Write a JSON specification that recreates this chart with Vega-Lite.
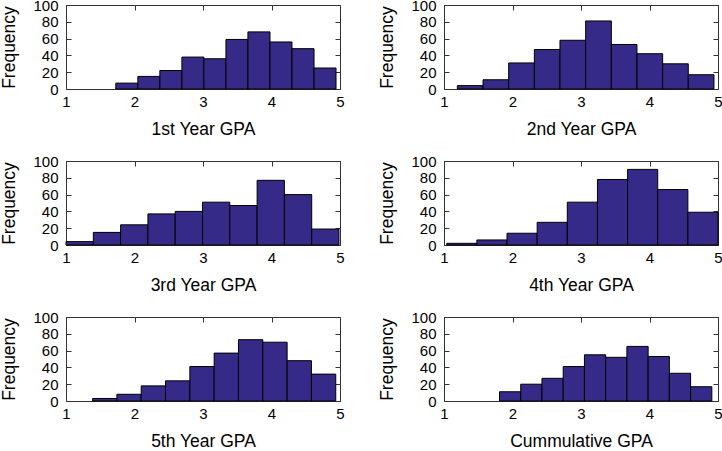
{
  "$schema": "https://vega.github.io/schema/vega-lite/v6.json",
  "padding": {"left": 0, "top": -2, "right": 0, "bottom": 0},
  "bounds": "flush",
  "columns": 2,
  "spacing": {"row": 72, "column": 104},
  "datasets": {
    "p1": [
      {"lo": 1.727, "hi": 2.049, "count": 7},
      {"lo": 2.049, "hi": 2.370, "count": 15},
      {"lo": 2.370, "hi": 2.692, "count": 22},
      {"lo": 2.692, "hi": 3.013, "count": 38},
      {"lo": 3.013, "hi": 3.335, "count": 36},
      {"lo": 3.335, "hi": 3.656, "count": 59},
      {"lo": 3.656, "hi": 3.978, "count": 68},
      {"lo": 3.978, "hi": 4.299, "count": 56},
      {"lo": 4.299, "hi": 4.621, "count": 48},
      {"lo": 4.621, "hi": 4.942, "count": 25}
    ],
    "p2": [
      {"lo": 1.195, "hi": 1.570, "count": 4},
      {"lo": 1.570, "hi": 1.944, "count": 11},
      {"lo": 1.944, "hi": 2.319, "count": 31},
      {"lo": 2.319, "hi": 2.693, "count": 47},
      {"lo": 2.693, "hi": 3.068, "count": 58},
      {"lo": 3.068, "hi": 3.443, "count": 81},
      {"lo": 3.443, "hi": 3.817, "count": 53},
      {"lo": 3.817, "hi": 4.192, "count": 42},
      {"lo": 4.192, "hi": 4.566, "count": 30},
      {"lo": 4.566, "hi": 4.941, "count": 17}
    ],
    "p3": [
      {"lo": 1.000, "hi": 1.399, "count": 4},
      {"lo": 1.399, "hi": 1.797, "count": 15},
      {"lo": 1.797, "hi": 2.196, "count": 24},
      {"lo": 2.196, "hi": 2.594, "count": 37},
      {"lo": 2.594, "hi": 2.993, "count": 40},
      {"lo": 2.993, "hi": 3.391, "count": 51},
      {"lo": 3.391, "hi": 3.790, "count": 47},
      {"lo": 3.790, "hi": 4.188, "count": 77},
      {"lo": 4.188, "hi": 4.587, "count": 60},
      {"lo": 4.587, "hi": 4.985, "count": 19}
    ],
    "p4": [
      {"lo": 1.04, "hi": 1.48, "count": 2},
      {"lo": 1.48, "hi": 1.92, "count": 6},
      {"lo": 1.92, "hi": 2.36, "count": 14},
      {"lo": 2.36, "hi": 2.80, "count": 27},
      {"lo": 2.80, "hi": 3.24, "count": 51},
      {"lo": 3.24, "hi": 3.68, "count": 78},
      {"lo": 3.68, "hi": 4.12, "count": 90},
      {"lo": 4.12, "hi": 4.56, "count": 66},
      {"lo": 4.56, "hi": 5.00, "count": 39}
    ],
    "p5": [
      {"lo": 1.388, "hi": 1.743, "count": 3},
      {"lo": 1.743, "hi": 2.098, "count": 8},
      {"lo": 2.098, "hi": 2.453, "count": 18},
      {"lo": 2.453, "hi": 2.808, "count": 24},
      {"lo": 2.808, "hi": 3.163, "count": 41},
      {"lo": 3.163, "hi": 3.518, "count": 57},
      {"lo": 3.518, "hi": 3.873, "count": 73},
      {"lo": 3.873, "hi": 4.228, "count": 70},
      {"lo": 4.228, "hi": 4.583, "count": 48},
      {"lo": 4.583, "hi": 4.938, "count": 32}
    ],
    "p6": [
      {"lo": 1.810, "hi": 2.120, "count": 11},
      {"lo": 2.120, "hi": 2.430, "count": 20},
      {"lo": 2.430, "hi": 2.740, "count": 27},
      {"lo": 2.740, "hi": 3.050, "count": 41},
      {"lo": 3.050, "hi": 3.360, "count": 55},
      {"lo": 3.360, "hi": 3.670, "count": 52},
      {"lo": 3.670, "hi": 3.980, "count": 65},
      {"lo": 3.980, "hi": 4.290, "count": 53},
      {"lo": 4.290, "hi": 4.600, "count": 33},
      {"lo": 4.600, "hi": 4.910, "count": 17}
    ]
  },
  "concat": [
    {
      "width": 274, "height": 84,
      "data": {"name": "p1"},
      "layer": [
        {"mark": {"type": "bar", "fill": "#352a87", "stroke": "#000000", "strokeWidth": 1},
         "encoding": {
           "x": {"field": "lo", "type": "quantitative", "scale": {"domain": [1, 5]}, "axis": {"title": "1st Year GPA", "values": [1, 2, 3, 4, 5]}},
           "x2": {"field": "hi"},
           "y": {"field": "count", "type": "quantitative", "scale": {"domain": [0, 100]}, "axis": {"title": "Frequency", "values": [0, 20, 40, 60, 80, 100]}},
           "y2": {"datum": 0}
         }},
        {"mark": {"type": "bar", "opacity": 0},
         "encoding": {
           "x": {"field": "lo", "type": "quantitative", "scale": {"domain": [1, 5]}, "axis": {"orient": "top", "labels": false, "title": null, "values": [1, 2, 3, 4, 5]}},
           "x2": {"field": "hi"},
           "y": {"field": "count", "type": "quantitative", "scale": {"domain": [0, 100]}, "axis": {"orient": "right", "labels": false, "title": null, "values": [0, 20, 40, 60, 80, 100]}},
           "y2": {"datum": 0}
         }}
      ],
      "resolve": {"scale": {"x": "independent", "y": "independent"}}
    },
    {
      "width": 274, "height": 84,
      "data": {"name": "p2"},
      "layer": [
        {"mark": {"type": "bar", "fill": "#352a87", "stroke": "#000000", "strokeWidth": 1},
         "encoding": {
           "x": {"field": "lo", "type": "quantitative", "scale": {"domain": [1, 5]}, "axis": {"title": "2nd Year GPA", "values": [1, 2, 3, 4, 5]}},
           "x2": {"field": "hi"},
           "y": {"field": "count", "type": "quantitative", "scale": {"domain": [0, 100]}, "axis": {"title": "Frequency", "values": [0, 20, 40, 60, 80, 100]}},
           "y2": {"datum": 0}
         }},
        {"mark": {"type": "bar", "opacity": 0},
         "encoding": {
           "x": {"field": "lo", "type": "quantitative", "scale": {"domain": [1, 5]}, "axis": {"orient": "top", "labels": false, "title": null, "values": [1, 2, 3, 4, 5]}},
           "x2": {"field": "hi"},
           "y": {"field": "count", "type": "quantitative", "scale": {"domain": [0, 100]}, "axis": {"orient": "right", "labels": false, "title": null, "values": [0, 20, 40, 60, 80, 100]}},
           "y2": {"datum": 0}
         }}
      ],
      "resolve": {"scale": {"x": "independent", "y": "independent"}}
    },
    {
      "width": 274, "height": 84,
      "data": {"name": "p3"},
      "layer": [
        {"mark": {"type": "bar", "fill": "#352a87", "stroke": "#000000", "strokeWidth": 1},
         "encoding": {
           "x": {"field": "lo", "type": "quantitative", "scale": {"domain": [1, 5]}, "axis": {"title": "3rd Year GPA", "values": [1, 2, 3, 4, 5]}},
           "x2": {"field": "hi"},
           "y": {"field": "count", "type": "quantitative", "scale": {"domain": [0, 100]}, "axis": {"title": "Frequency", "values": [0, 20, 40, 60, 80, 100]}},
           "y2": {"datum": 0}
         }},
        {"mark": {"type": "bar", "opacity": 0},
         "encoding": {
           "x": {"field": "lo", "type": "quantitative", "scale": {"domain": [1, 5]}, "axis": {"orient": "top", "labels": false, "title": null, "values": [1, 2, 3, 4, 5]}},
           "x2": {"field": "hi"},
           "y": {"field": "count", "type": "quantitative", "scale": {"domain": [0, 100]}, "axis": {"orient": "right", "labels": false, "title": null, "values": [0, 20, 40, 60, 80, 100]}},
           "y2": {"datum": 0}
         }}
      ],
      "resolve": {"scale": {"x": "independent", "y": "independent"}}
    },
    {
      "width": 274, "height": 84,
      "data": {"name": "p4"},
      "layer": [
        {"mark": {"type": "bar", "fill": "#352a87", "stroke": "#000000", "strokeWidth": 1},
         "encoding": {
           "x": {"field": "lo", "type": "quantitative", "scale": {"domain": [1, 5]}, "axis": {"title": "4th Year GPA", "values": [1, 2, 3, 4, 5]}},
           "x2": {"field": "hi"},
           "y": {"field": "count", "type": "quantitative", "scale": {"domain": [0, 100]}, "axis": {"title": "Frequency", "values": [0, 20, 40, 60, 80, 100]}},
           "y2": {"datum": 0}
         }},
        {"mark": {"type": "bar", "opacity": 0},
         "encoding": {
           "x": {"field": "lo", "type": "quantitative", "scale": {"domain": [1, 5]}, "axis": {"orient": "top", "labels": false, "title": null, "values": [1, 2, 3, 4, 5]}},
           "x2": {"field": "hi"},
           "y": {"field": "count", "type": "quantitative", "scale": {"domain": [0, 100]}, "axis": {"orient": "right", "labels": false, "title": null, "values": [0, 20, 40, 60, 80, 100]}},
           "y2": {"datum": 0}
         }}
      ],
      "resolve": {"scale": {"x": "independent", "y": "independent"}}
    },
    {
      "width": 274, "height": 84,
      "data": {"name": "p5"},
      "layer": [
        {"mark": {"type": "bar", "fill": "#352a87", "stroke": "#000000", "strokeWidth": 1},
         "encoding": {
           "x": {"field": "lo", "type": "quantitative", "scale": {"domain": [1, 5]}, "axis": {"title": "5th Year GPA", "values": [1, 2, 3, 4, 5]}},
           "x2": {"field": "hi"},
           "y": {"field": "count", "type": "quantitative", "scale": {"domain": [0, 100]}, "axis": {"title": "Frequency", "values": [0, 20, 40, 60, 80, 100]}},
           "y2": {"datum": 0}
         }},
        {"mark": {"type": "bar", "opacity": 0},
         "encoding": {
           "x": {"field": "lo", "type": "quantitative", "scale": {"domain": [1, 5]}, "axis": {"orient": "top", "labels": false, "title": null, "values": [1, 2, 3, 4, 5]}},
           "x2": {"field": "hi"},
           "y": {"field": "count", "type": "quantitative", "scale": {"domain": [0, 100]}, "axis": {"orient": "right", "labels": false, "title": null, "values": [0, 20, 40, 60, 80, 100]}},
           "y2": {"datum": 0}
         }}
      ],
      "resolve": {"scale": {"x": "independent", "y": "independent"}}
    },
    {
      "width": 274, "height": 84,
      "data": {"name": "p6"},
      "layer": [
        {"mark": {"type": "bar", "fill": "#352a87", "stroke": "#000000", "strokeWidth": 1},
         "encoding": {
           "x": {"field": "lo", "type": "quantitative", "scale": {"domain": [1, 5]}, "axis": {"title": "Cummulative GPA", "values": [1, 2, 3, 4, 5]}},
           "x2": {"field": "hi"},
           "y": {"field": "count", "type": "quantitative", "scale": {"domain": [0, 100]}, "axis": {"title": "Frequency", "values": [0, 20, 40, 60, 80, 100]}},
           "y2": {"datum": 0}
         }},
        {"mark": {"type": "bar", "opacity": 0},
         "encoding": {
           "x": {"field": "lo", "type": "quantitative", "scale": {"domain": [1, 5]}, "axis": {"orient": "top", "labels": false, "title": null, "values": [1, 2, 3, 4, 5]}},
           "x2": {"field": "hi"},
           "y": {"field": "count", "type": "quantitative", "scale": {"domain": [0, 100]}, "axis": {"orient": "right", "labels": false, "title": null, "values": [0, 20, 40, 60, 80, 100]}},
           "y2": {"datum": 0}
         }}
      ],
      "resolve": {"scale": {"x": "independent", "y": "independent"}}
    }
  ],
  "config": {
    "font": "Liberation Sans",
    "view": {"stroke": null},
    "axis": {
      "grid": false,
      "domainColor": "#333333",
      "domainWidth": 1,
      "tickColor": "#333333",
      "tickSize": -5,
      "labelPadding": 13,
      "labelFontSize": 15,
      "labelColor": "#000000",
      "labelFlush": false,
      "labelOverlap": false,
      "titleFontSize": 17.5,
      "titleFontWeight": "normal",
      "titleColor": "#000000"
    },
    "axisX": {"labelPadding": 10, "titlePadding": 11},
    "axisY": {"titlePadding": 14}
  }
}
